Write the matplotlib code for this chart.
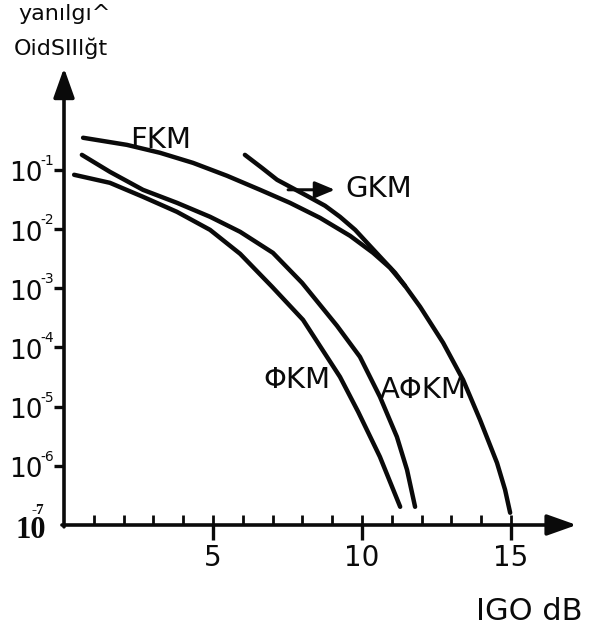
import matplotlib
matplotlib.use("Agg")
import matplotlib.pyplot as plt
import matplotlib.transforms as mtransforms
from matplotlib.ticker import FixedLocator

plt.rcParams['font.family'] = ['DejaVu Sans']

# ---- data ----
fkm_x = [0.64, 2.11, 3.22, 4.33, 5.47, 6.58, 7.58, 8.59, 9.60, 10.37, 10.94, 11.44, 11.95,
         12.72, 13.39, 13.96, 14.53, 14.80, 14.97]
fkm_y = [3.48e-1, 2.64e-1, 1.94e-1, 1.31e-1, 7.93e-2, 4.59e-2, 2.77e-2, 1.545e-2, 7.67e-3, 3.96e-3,
         2.21e-3, 1.10e-3, 4.85e-4, 1.20e-4, 2.84e-5, 5.98e-6, 1.12e-6, 3.94e-7, 1.61e-7]

gkm_x = [6.07, 6.64, 7.15, 7.65, 8.15, 8.76, 9.26, 9.77, 10.17, 10.70, 11.11, 11.44]
gkm_y = [1.79e-1, 1.08e-1, 6.78e-2, 4.97e-2, 3.64e-2, 2.47e-2, 1.61e-2, 9.68e-3, 5.85e-3, 3.02e-3,
         1.82e-3, 1.10e-3]

phikm_x = [0.34, 1.54, 2.65, 3.79, 4.90, 5.91, 6.98, 8.02, 9.26, 9.87, 10.60, 11.28]
phikm_y = [8.24e-2, 6.03e-2, 3.50e-2, 1.95e-2, 9.68e-3, 3.81e-3, 1.06e-3, 2.92e-4, 3.18e-5, 8.17e-6,
           1.42e-6, 2.03e-7]

aphikm_x = [0.60, 1.54, 2.65, 3.79, 4.90, 5.91, 7.01, 7.99, 9.16, 9.93, 10.60, 11.17, 11.51, 11.78]
aphikm_y = [1.79e-1, 9.25e-2, 4.59e-2, 2.77e-2, 1.61e-2, 8.97e-3, 3.96e-3, 1.23e-3, 2.32e-4, 6.93e-5,
            1.47e-5, 3.09e-6, 8.55e-7, 2.03e-7]

curve_labels = ['FKM', 'GKM', 'ΦKM', 'AΦKM']
x_ticks = [5, 10, 15]
x_tick_labels = ['5', '10', '15']
y_ticks = [1e-1, 1e-2, 1e-3, 1e-4, 1e-5, 1e-6]
y_tick_exps = ['-1', '-2', '-3', '-4', '-5', '-6']
y_bottom_exp = '-7'
y_title_lines = ['yanılgı^', 'OidSIIlğt']
x_title = 'IGO dB'

W, H = 598, 630
fig = plt.figure(figsize=(W / 100, H / 100), dpi=100)
ax = fig.add_axes([64 / W, 105 / H, 512.6 / W, 457 / H])
ax.set_yscale('log')
ax.set_xlim(0, 17.2)
ax.set_ylim(1e-7, 10 ** 0.72)
for s in ax.spines.values():
    s.set_visible(False)

k = '#0a0a0a'
lw = 3.2
for xs, ys in [(fkm_x, fkm_y), (gkm_x, gkm_y), (phikm_x, phikm_y), (aphikm_x, aphikm_y)]:
    ax.plot(xs, ys, color=k, lw=lw, solid_capstyle='round', solid_joinstyle='round', clip_on=False)

# axes with arrows
ap = dict(arrowstyle='-|>,head_length=0.9,head_width=0.32', lw=2.6, color=k,
          mutation_scale=20, shrinkA=0, shrinkB=0)
ax.annotate('', xy=(1, 0), xycoords='axes fraction', xytext=(-0.004, 0), textcoords='axes fraction', arrowprops=ap)
ax.annotate('', xy=(0, 1), xycoords='axes fraction', xytext=(0, -0.004), textcoords='axes fraction', arrowprops=ap)

# x ticks
ax.set_xticks(x_ticks)
ax.set_xticklabels(x_tick_labels, fontsize=20, color=k)
ax.xaxis.set_minor_locator(FixedLocator(list(range(1, 16))))
ax.xaxis.remove_overlapping_locs = False
ax.tick_params(axis='x', which='major', direction='out', length=11, width=2.4, pad=3, color=k)
ax.tick_params(axis='x', which='minor', direction='in', length=7, width=2.0, color=k)

# y ticks (labels drawn by hand: "10" plus a small exponent)
ax.set_yticks(y_ticks)
ax.set_yticklabels([])
ax.yaxis.set_minor_locator(FixedLocator([]))
ax.tick_params(axis='y', which='major', direction='out', length=7, width=2.4, color=k)
blend = mtransforms.blended_transform_factory(fig.transFigure, ax.transData)
t_base = mtransforms.offset_copy(blend, fig=fig, x=0, y=-11.5, units='dots')
t_sup = mtransforms.offset_copy(blend, fig=fig, x=0, y=5, units='dots')
for yv, ex in zip(y_ticks, y_tick_exps):
    fig.text(9 / W, yv, '10', transform=t_base, fontsize=19, color=k, va='baseline', ha='left')
    fig.text(40 / W, yv, ex, transform=t_sup, fontsize=10, color=k, va='baseline', ha='left')

# 10^-7 label (bold serif)
fig.text(15 / W, 1 - 538 / H, '10', family='Liberation Serif', weight='bold', fontsize=22, color=k, va='baseline', ha='left')
fig.text(32 / W, 1 - 514 / H, y_bottom_exp, family='Liberation Serif', weight='bold', fontsize=11, color=k, va='baseline', ha='left')

# curve labels
lab_fs = 21
ax.text(2.21, 0.236, curve_labels[0], fontsize=lab_fs, color=k, va='baseline', ha='left')
ax.text(9.43, 0.035, curve_labels[1], fontsize=lab_fs, color=k, va='baseline', ha='left')
ax.text(6.68, 2.1e-5, curve_labels[2], fontsize=lab_fs, color=k, va='baseline', ha='left')
ax.text(10.60, 1.4e-5, curve_labels[3], fontsize=lab_fs, color=k, va='baseline', ha='left')
ax.annotate('', xy=(9.09, 0.046), xytext=(7.52, 0.046),
            arrowprops=dict(arrowstyle='-|>,head_length=0.6,head_width=0.25', lw=2.2, color=k,
                            mutation_scale=20, shrinkA=0, shrinkB=0))

# axis titles
fig.text(18 / W, 1 - 20 / H, y_title_lines[0], fontsize=16, color=k, va='baseline', ha='left')
fig.text(14 / W, 1 - 55 / H, y_title_lines[1], fontsize=16, color=k, va='baseline', ha='left')
fig.text(476 / W, 1 - 620 / H, x_title, fontsize=22, color=k, va='baseline', ha='left')

fig.savefig('out.png', dpi=100)
